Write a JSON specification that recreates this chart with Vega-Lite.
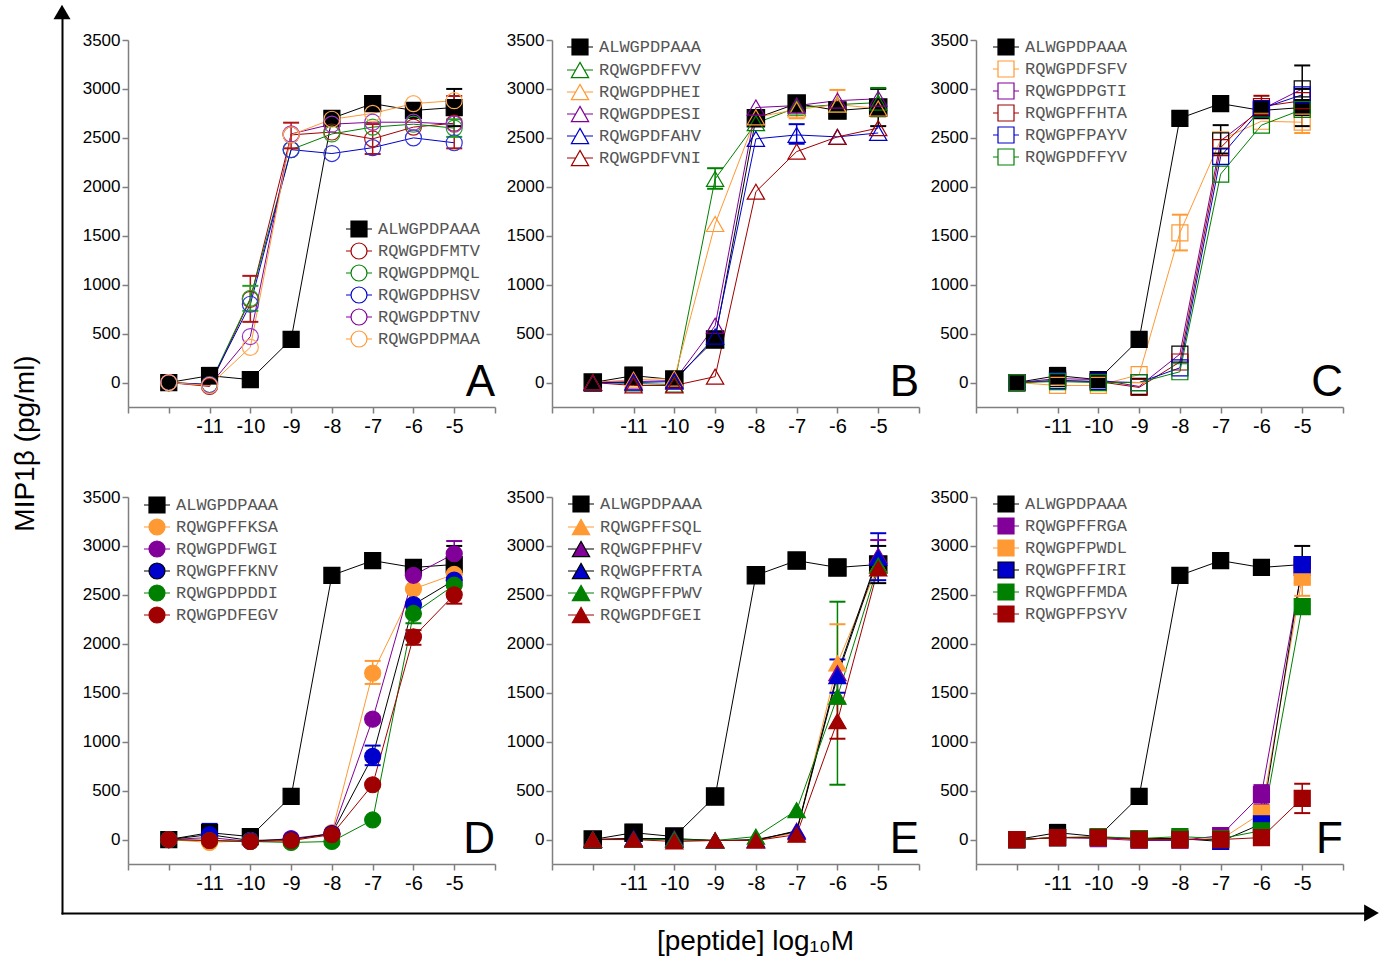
{
"$schema": "https://vega.github.io/schema/vega-lite/v6.json",
"padding": {"left": 11, "top": 4, "right": 5, "bottom": 5},
"background": "white",
"datasets": {"d": [
{"p":"ctl","s":"ALWGPDPAAA","x":-12,"y":0},{"p":"ctl","s":"ALWGPDPAAA","x":-11,"y":70,"lo":-10,"hi":150},{"p":"ctl","s":"ALWGPDPAAA","x":-10,"y":30},{"p":"ctl","s":"ALWGPDPAAA","x":-9,"y":440},{"p":"ctl","s":"ALWGPDPAAA","x":-8,"y":2700},{"p":"ctl","s":"ALWGPDPAAA","x":-7,"y":2850},{"p":"ctl","s":"ALWGPDPAAA","x":-6,"y":2780},{"p":"ctl","s":"ALWGPDPAAA","x":-5,"y":2810,"lo":2620,"hi":3000},
{"p":"A","s":"RQWGPDFMTV","x":-12,"y":0},{"p":"A","s":"RQWGPDFMTV","x":-11,"y":-40},{"p":"A","s":"RQWGPDFMTV","x":-10,"y":850,"lo":620,"hi":1090},{"p":"A","s":"RQWGPDFMTV","x":-9,"y":2530,"lo":2393,"hi":2655},{"p":"A","s":"RQWGPDFMTV","x":-8,"y":2560},{"p":"A","s":"RQWGPDFMTV","x":-7,"y":2490,"lo":2335,"hi":2641},{"p":"A","s":"RQWGPDFMTV","x":-6,"y":2610},{"p":"A","s":"RQWGPDFMTV","x":-5,"y":2650,"lo":2393,"hi":2928},
{"p":"A","s":"RQWGPDPMQL","x":-12,"y":0},{"p":"A","s":"RQWGPDPMQL","x":-11,"y":-20},{"p":"A","s":"RQWGPDPMQL","x":-10,"y":860,"lo":733,"hi":988},{"p":"A","s":"RQWGPDPMQL","x":-9,"y":2380},{"p":"A","s":"RQWGPDPMQL","x":-8,"y":2540},{"p":"A","s":"RQWGPDPMQL","x":-7,"y":2610},{"p":"A","s":"RQWGPDPMQL","x":-6,"y":2640},{"p":"A","s":"RQWGPDPMQL","x":-5,"y":2600,"lo":2510,"hi":2690},
{"p":"A","s":"RQWGPDPHSV","x":-12,"y":0},{"p":"A","s":"RQWGPDPHSV","x":-11,"y":-20},{"p":"A","s":"RQWGPDPHSV","x":-10,"y":800},{"p":"A","s":"RQWGPDPHSV","x":-9,"y":2380},{"p":"A","s":"RQWGPDPHSV","x":-8,"y":2340},{"p":"A","s":"RQWGPDPHSV","x":-7,"y":2400},{"p":"A","s":"RQWGPDPHSV","x":-6,"y":2500},{"p":"A","s":"RQWGPDPHSV","x":-5,"y":2450},
{"p":"A","s":"RQWGPDPTNV","x":-12,"y":0},{"p":"A","s":"RQWGPDPTNV","x":-11,"y":-30},{"p":"A","s":"RQWGPDPTNV","x":-10,"y":470},{"p":"A","s":"RQWGPDPTNV","x":-9,"y":2540},{"p":"A","s":"RQWGPDPTNV","x":-8,"y":2640},{"p":"A","s":"RQWGPDPTNV","x":-7,"y":2660},{"p":"A","s":"RQWGPDPTNV","x":-6,"y":2660},{"p":"A","s":"RQWGPDPTNV","x":-5,"y":2640},
{"p":"A","s":"RQWGPDPMAA","x":-12,"y":0},{"p":"A","s":"RQWGPDPMAA","x":-11,"y":-30},{"p":"A","s":"RQWGPDPMAA","x":-10,"y":360},{"p":"A","s":"RQWGPDPMAA","x":-9,"y":2530},{"p":"A","s":"RQWGPDPMAA","x":-8,"y":2690},{"p":"A","s":"RQWGPDPMAA","x":-7,"y":2750},{"p":"A","s":"RQWGPDPMAA","x":-6,"y":2850},{"p":"A","s":"RQWGPDPMAA","x":-5,"y":2880},
{"p":"B","s":"RQWGPDFFVV","x":-12,"y":0},{"p":"B","s":"RQWGPDFFVV","x":-11,"y":-10},{"p":"B","s":"RQWGPDFFVV","x":-10,"y":-20},{"p":"B","s":"RQWGPDFFVV","x":-9,"y":2080,"lo":1980,"hi":2190},{"p":"B","s":"RQWGPDFFVV","x":-8,"y":2650},{"p":"B","s":"RQWGPDFFVV","x":-7,"y":2810},{"p":"B","s":"RQWGPDFFVV","x":-6,"y":2840},{"p":"B","s":"RQWGPDFFVV","x":-5,"y":2860,"lo":2720,"hi":3010},
{"p":"B","s":"RQWGPDPHEI","x":-12,"y":0},{"p":"B","s":"RQWGPDPHEI","x":-11,"y":30},{"p":"B","s":"RQWGPDPHEI","x":-10,"y":40},{"p":"B","s":"RQWGPDPHEI","x":-9,"y":1620},{"p":"B","s":"RQWGPDPHEI","x":-8,"y":2710},{"p":"B","s":"RQWGPDPHEI","x":-7,"y":2790,"lo":2700,"hi":2880},{"p":"B","s":"RQWGPDPHEI","x":-6,"y":2840,"lo":2700,"hi":2990},{"p":"B","s":"RQWGPDPHEI","x":-5,"y":2800},
{"p":"B","s":"RQWGPDPESI","x":-12,"y":0},{"p":"B","s":"RQWGPDPESI","x":-11,"y":10},{"p":"B","s":"RQWGPDPESI","x":-10,"y":20},{"p":"B","s":"RQWGPDPESI","x":-9,"y":580},{"p":"B","s":"RQWGPDPESI","x":-8,"y":2810},{"p":"B","s":"RQWGPDPESI","x":-7,"y":2830},{"p":"B","s":"RQWGPDPESI","x":-6,"y":2880},{"p":"B","s":"RQWGPDPESI","x":-5,"y":2900},
{"p":"B","s":"RQWGPDFAHV","x":-12,"y":0},{"p":"B","s":"RQWGPDFAHV","x":-11,"y":0},{"p":"B","s":"RQWGPDFAHV","x":-10,"y":10},{"p":"B","s":"RQWGPDFAHV","x":-9,"y":470},{"p":"B","s":"RQWGPDFAHV","x":-8,"y":2490},{"p":"B","s":"RQWGPDFAHV","x":-7,"y":2530,"lo":2440,"hi":2640},{"p":"B","s":"RQWGPDFAHV","x":-6,"y":2510},{"p":"B","s":"RQWGPDFAHV","x":-5,"y":2550},
{"p":"B","s":"RQWGPDFVNI","x":-12,"y":0},{"p":"B","s":"RQWGPDFVNI","x":-11,"y":-30},{"p":"B","s":"RQWGPDFVNI","x":-10,"y":-30},{"p":"B","s":"RQWGPDFVNI","x":-9,"y":60},{"p":"B","s":"RQWGPDFVNI","x":-8,"y":1950},{"p":"B","s":"RQWGPDFVNI","x":-7,"y":2360},{"p":"B","s":"RQWGPDFVNI","x":-6,"y":2510},{"p":"B","s":"RQWGPDFVNI","x":-5,"y":2600},
{"p":"C","s":"RQWGPDFSFV","x":-12,"y":0},{"p":"C","s":"RQWGPDFSFV","x":-11,"y":-30},{"p":"C","s":"RQWGPDFSFV","x":-10,"y":-30},{"p":"C","s":"RQWGPDFSFV","x":-9,"y":80},{"p":"C","s":"RQWGPDFSFV","x":-8,"y":1530,"lo":1350,"hi":1715},{"p":"C","s":"RQWGPDFSFV","x":-7,"y":2480},{"p":"C","s":"RQWGPDFSFV","x":-6,"y":2670},{"p":"C","s":"RQWGPDFSFV","x":-5,"y":2660,"lo":2550,"hi":2770},
{"p":"C","s":"RQWGPDPGTI","x":-12,"y":0},{"p":"C","s":"RQWGPDPGTI","x":-11,"y":40},{"p":"C","s":"RQWGPDPGTI","x":-10,"y":30},{"p":"C","s":"RQWGPDPGTI","x":-9,"y":-40},{"p":"C","s":"RQWGPDPGTI","x":-8,"y":290},{"p":"C","s":"RQWGPDPGTI","x":-7,"y":2470,"lo":2340,"hi":2630},{"p":"C","s":"RQWGPDPGTI","x":-6,"y":2790},{"p":"C","s":"RQWGPDPGTI","x":-5,"y":3000,"lo":2790,"hi":3240},
{"p":"C","s":"RQWGPFFHTA","x":-12,"y":0},{"p":"C","s":"RQWGPFFHTA","x":-11,"y":20},{"p":"C","s":"RQWGPFFHTA","x":-10,"y":10},{"p":"C","s":"RQWGPFFHTA","x":-9,"y":-50},{"p":"C","s":"RQWGPFFHTA","x":-8,"y":210},{"p":"C","s":"RQWGPFFHTA","x":-7,"y":2400},{"p":"C","s":"RQWGPFFHTA","x":-6,"y":2820,"lo":2700,"hi":2930},{"p":"C","s":"RQWGPFFHTA","x":-5,"y":2880},
{"p":"C","s":"RQWGPFPAYV","x":-12,"y":0},{"p":"C","s":"RQWGPFPAYV","x":-11,"y":20},{"p":"C","s":"RQWGPFPAYV","x":-10,"y":10},{"p":"C","s":"RQWGPFPAYV","x":-9,"y":0},{"p":"C","s":"RQWGPFPAYV","x":-8,"y":150},{"p":"C","s":"RQWGPFPAYV","x":-7,"y":2310},{"p":"C","s":"RQWGPFPAYV","x":-6,"y":2800},{"p":"C","s":"RQWGPFPAYV","x":-5,"y":2940},
{"p":"C","s":"RQWGPDFFYV","x":-12,"y":0},{"p":"C","s":"RQWGPDFFYV","x":-11,"y":10},{"p":"C","s":"RQWGPDFFYV","x":-10,"y":0},{"p":"C","s":"RQWGPDFFYV","x":-9,"y":0},{"p":"C","s":"RQWGPDFFYV","x":-8,"y":110},{"p":"C","s":"RQWGPDFFYV","x":-7,"y":2130},{"p":"C","s":"RQWGPDFFYV","x":-6,"y":2630},{"p":"C","s":"RQWGPDFFYV","x":-5,"y":2790},
{"p":"D","s":"RQWGPFFKSA","x":-12,"y":0},{"p":"D","s":"RQWGPFFKSA","x":-11,"y":-30},{"p":"D","s":"RQWGPFFKSA","x":-10,"y":-10},{"p":"D","s":"RQWGPFFKSA","x":-9,"y":-20},{"p":"D","s":"RQWGPFFKSA","x":-8,"y":70},{"p":"D","s":"RQWGPFFKSA","x":-7,"y":1700,"lo":1590,"hi":1825},{"p":"D","s":"RQWGPFFKSA","x":-6,"y":2560},{"p":"D","s":"RQWGPFFKSA","x":-5,"y":2710},
{"p":"D","s":"RQWGPDFWGI","x":-12,"y":0},{"p":"D","s":"RQWGPDFWGI","x":-11,"y":20},{"p":"D","s":"RQWGPDFWGI","x":-10,"y":-20},{"p":"D","s":"RQWGPDFWGI","x":-9,"y":10},{"p":"D","s":"RQWGPDFWGI","x":-8,"y":60},{"p":"D","s":"RQWGPDFWGI","x":-7,"y":1230},{"p":"D","s":"RQWGPDFWGI","x":-6,"y":2700},{"p":"D","s":"RQWGPDFWGI","x":-5,"y":2920,"lo":2780,"hi":3050},
{"p":"D","s":"RQWGPFFKNV","x":-12,"y":0},{"p":"D","s":"RQWGPFFKNV","x":-11,"y":50,"lo":-40,"hi":160},{"p":"D","s":"RQWGPFFKNV","x":-10,"y":-10},{"p":"D","s":"RQWGPFFKNV","x":-9,"y":0},{"p":"D","s":"RQWGPFFKNV","x":-8,"y":60},{"p":"D","s":"RQWGPFFKNV","x":-7,"y":850,"lo":760,"hi":960},{"p":"D","s":"RQWGPFFKNV","x":-6,"y":2400},{"p":"D","s":"RQWGPFFKNV","x":-5,"y":2650},
{"p":"D","s":"RQWGPDPDDI","x":-12,"y":0},{"p":"D","s":"RQWGPDPDDI","x":-11,"y":-10},{"p":"D","s":"RQWGPDPDDI","x":-10,"y":-20},{"p":"D","s":"RQWGPDPDDI","x":-9,"y":-30},{"p":"D","s":"RQWGPDPDDI","x":-8,"y":-20},{"p":"D","s":"RQWGPDPDDI","x":-7,"y":200},{"p":"D","s":"RQWGPDPDDI","x":-6,"y":2310,"lo":2210,"hi":2410},{"p":"D","s":"RQWGPDPDDI","x":-5,"y":2600},
{"p":"D","s":"RQWGPDFEGV","x":-12,"y":0},{"p":"D","s":"RQWGPDFEGV","x":-11,"y":-10},{"p":"D","s":"RQWGPDFEGV","x":-10,"y":-20},{"p":"D","s":"RQWGPDFEGV","x":-9,"y":-10},{"p":"D","s":"RQWGPDFEGV","x":-8,"y":50},{"p":"D","s":"RQWGPDFEGV","x":-7,"y":560},{"p":"D","s":"RQWGPDFEGV","x":-6,"y":2070,"lo":1990,"hi":2140},{"p":"D","s":"RQWGPDFEGV","x":-5,"y":2500,"lo":2410,"hi":2590},
{"p":"E","s":"RQWGPFFSQL","x":-12,"y":0},{"p":"E","s":"RQWGPFFSQL","x":-11,"y":0},{"p":"E","s":"RQWGPFFSQL","x":-10,"y":0},{"p":"E","s":"RQWGPFFSQL","x":-9,"y":-10},{"p":"E","s":"RQWGPFFSQL","x":-8,"y":-10},{"p":"E","s":"RQWGPFFSQL","x":-7,"y":70},{"p":"E","s":"RQWGPFFSQL","x":-6,"y":1800,"lo":1410,"hi":2200},{"p":"E","s":"RQWGPFFSQL","x":-5,"y":2800},
{"p":"E","s":"RQWGPFPHFV","x":-12,"y":0},{"p":"E","s":"RQWGPFPHFV","x":-11,"y":10},{"p":"E","s":"RQWGPFPHFV","x":-10,"y":10},{"p":"E","s":"RQWGPFPHFV","x":-9,"y":-10},{"p":"E","s":"RQWGPFPHFV","x":-8,"y":-10},{"p":"E","s":"RQWGPFPHFV","x":-7,"y":90},{"p":"E","s":"RQWGPFPHFV","x":-6,"y":1700},{"p":"E","s":"RQWGPFPHFV","x":-5,"y":2900,"lo":2750,"hi":3060},
{"p":"E","s":"RQWGPFFRTA","x":-12,"y":0},{"p":"E","s":"RQWGPFFRTA","x":-11,"y":10},{"p":"E","s":"RQWGPFFRTA","x":-10,"y":0},{"p":"E","s":"RQWGPFFRTA","x":-9,"y":-10},{"p":"E","s":"RQWGPFFRTA","x":-8,"y":0},{"p":"E","s":"RQWGPFFRTA","x":-7,"y":80},{"p":"E","s":"RQWGPFFRTA","x":-6,"y":1670,"lo":1500,"hi":1840},{"p":"E","s":"RQWGPFFRTA","x":-5,"y":2880,"lo":2650,"hi":3130},
{"p":"E","s":"RQWGPFFPWV","x":-12,"y":0},{"p":"E","s":"RQWGPFFPWV","x":-11,"y":0},{"p":"E","s":"RQWGPFFPWV","x":-10,"y":0},{"p":"E","s":"RQWGPFFPWV","x":-9,"y":-10},{"p":"E","s":"RQWGPFFPWV","x":-8,"y":30},{"p":"E","s":"RQWGPFFPWV","x":-7,"y":300},{"p":"E","s":"RQWGPFFPWV","x":-6,"y":1460,"lo":560,"hi":2430},{"p":"E","s":"RQWGPFFPWV","x":-5,"y":2800},
{"p":"E","s":"RQWGPDFGEI","x":-12,"y":0},{"p":"E","s":"RQWGPDFGEI","x":-11,"y":0},{"p":"E","s":"RQWGPDFGEI","x":-10,"y":-20},{"p":"E","s":"RQWGPDFGEI","x":-9,"y":-10},{"p":"E","s":"RQWGPDFGEI","x":-8,"y":-10},{"p":"E","s":"RQWGPDFGEI","x":-7,"y":50},{"p":"E","s":"RQWGPDFGEI","x":-6,"y":1210,"lo":1030,"hi":1390},{"p":"E","s":"RQWGPDFGEI","x":-5,"y":2770},
{"p":"F","s":"RQWGPFFRGA","x":-12,"y":0},{"p":"F","s":"RQWGPFFRGA","x":-11,"y":20},{"p":"F","s":"RQWGPFFRGA","x":-10,"y":10},{"p":"F","s":"RQWGPFFRGA","x":-9,"y":-10},{"p":"F","s":"RQWGPFFRGA","x":-8,"y":-10},{"p":"F","s":"RQWGPFFRGA","x":-7,"y":40},{"p":"F","s":"RQWGPFFRGA","x":-6,"y":460,"lo":360,"hi":556},{"p":"F","s":"RQWGPFFRGA","x":-5,"y":2780},
{"p":"F","s":"RQWGPFPWDL","x":-12,"y":0},{"p":"F","s":"RQWGPFPWDL","x":-11,"y":20},{"p":"F","s":"RQWGPFPWDL","x":-10,"y":20},{"p":"F","s":"RQWGPFPWDL","x":-9,"y":0},{"p":"F","s":"RQWGPFPWDL","x":-8,"y":0},{"p":"F","s":"RQWGPFPWDL","x":-7,"y":0},{"p":"F","s":"RQWGPFPWDL","x":-6,"y":270},{"p":"F","s":"RQWGPFPWDL","x":-5,"y":2680,"lo":2490,"hi":2870},
{"p":"F","s":"RQWGPFFIRI","x":-12,"y":0},{"p":"F","s":"RQWGPFFIRI","x":-11,"y":20},{"p":"F","s":"RQWGPFFIRI","x":-10,"y":20},{"p":"F","s":"RQWGPFFIRI","x":-9,"y":10},{"p":"F","s":"RQWGPFFIRI","x":-8,"y":10},{"p":"F","s":"RQWGPFFIRI","x":-7,"y":-20},{"p":"F","s":"RQWGPFFIRI","x":-6,"y":160},{"p":"F","s":"RQWGPFFIRI","x":-5,"y":2810},
{"p":"F","s":"RQWGPFFMDA","x":-12,"y":0},{"p":"F","s":"RQWGPFFMDA","x":-11,"y":20},{"p":"F","s":"RQWGPFFMDA","x":-10,"y":30},{"p":"F","s":"RQWGPFFMDA","x":-9,"y":10},{"p":"F","s":"RQWGPFFMDA","x":-8,"y":30},{"p":"F","s":"RQWGPFFMDA","x":-7,"y":10},{"p":"F","s":"RQWGPFFMDA","x":-6,"y":90},{"p":"F","s":"RQWGPFFMDA","x":-5,"y":2380},
{"p":"F","s":"RQWGPFPSYV","x":-12,"y":0},{"p":"F","s":"RQWGPFPSYV","x":-11,"y":20},{"p":"F","s":"RQWGPFPSYV","x":-10,"y":20},{"p":"F","s":"RQWGPFPSYV","x":-9,"y":0},{"p":"F","s":"RQWGPFPSYV","x":-8,"y":0},{"p":"F","s":"RQWGPFPSYV","x":-7,"y":0},{"p":"F","s":"RQWGPFPSYV","x":-6,"y":20},{"p":"F","s":"RQWGPFPSYV","x":-5,"y":420,"lo":270,"hi":570}
]},
"concat": [
{"concat": [
{"width": 367, "height": 367, "title": "A", "data": {"name": "d"},
 "transform": [{"filter": "datum.p == 'A' || datum.p == 'ctl'"}],
 "encoding": {
  "x": {"field": "x", "type": "quantitative", "scale": {"domain": [-13, -4], "nice": false, "zero": false}, "axis": {"values": [-13,-12,-11,-10,-9,-8,-7,-6,-5,-4], "labelExpr": "datum.value >= -11 && datum.value <= -5 ? '' + datum.value : ''", "title": null}},
  "y": {"field": "y", "type": "quantitative", "scale": {"domain": [-250, 3500], "nice": false, "zero": false}, "axis": {"values": [0,500,1000,1500,2000,2500,3000,3500], "format": "d", "title": null}}
 },
 "layer": [
  {"mark": {"type": "line", "strokeWidth": 1}, "encoding": {"color": {"field": "s", "type": "nominal", "sort": ["ALWGPDPAAA","RQWGPDFMTV","RQWGPDPMQL","RQWGPDPHSV","RQWGPDPTNV","RQWGPDPMAA"], "scale": {"range": ["#000000","#a00000","#008000","#0000cc","#800099","#ff9933"]},
      "legend": {"title": null, "legendX": 222, "legendY": 180, "encode": {"symbols": {"update": {
        "shape": [{"test": "datum.value === 'ALWGPDPAAA'", "value": "M-1.625,0H-1M1,0H1.625M-1,-1H1V1H-1Z"}, {"value": "M-1.625,0H-1M1,0H1.625M-1,0A1,1,0,1,1,1,0A1,1,0,1,1,-1,0Z"}],
        "fill": [{"test": "datum.value === 'ALWGPDPAAA'", "value": "#000000"}, {"value": "transparent"}],
        "strokeWidth": {"value": 1.2}, "opacity": {"value": 1}}}}}}}},
  {"transform": [{"filter": "datum.lo != null"}], "mark": {"type": "rule", "strokeWidth": 1.5}, "encoding": {"y": {"field": "lo", "type": "quantitative", "title": null}, "y2": {"field": "hi"}, "stroke": {"field": "s", "type": "nominal", "scale": {"domain": ["ALWGPDPAAA","RQWGPDFMTV","RQWGPDPMQL","RQWGPDPHSV","RQWGPDPTNV","RQWGPDPMAA"], "range": ["#000000","#b01515","#22a022","#3333dd","#9933cc","#ffaa55"]}, "legend": null}}},
  {"transform": [{"filter": "datum.lo != null"}], "mark": {"type": "point", "shape": "M-1,0H1", "size": 256, "strokeWidth": 2, "opacity": 1, "filled": false}, "encoding": {"y": {"field": "lo", "type": "quantitative", "title": null}, "stroke": {"field": "s", "type": "nominal", "legend": null}}},
  {"transform": [{"filter": "datum.lo != null"}], "mark": {"type": "point", "shape": "M-1,0H1", "size": 256, "strokeWidth": 2, "opacity": 1, "filled": false}, "encoding": {"y": {"field": "hi", "type": "quantitative", "title": null}, "stroke": {"field": "s", "type": "nominal", "legend": null}}},
  {"mark": {"type": "point", "size": 256, "strokeWidth": 1.2, "opacity": 1}, "encoding": {
    "fill": {"field": "s", "type": "nominal", "scale": {"domain": ["ALWGPDPAAA","RQWGPDFMTV","RQWGPDPMQL","RQWGPDPHSV","RQWGPDPTNV","RQWGPDPMAA"], "range": ["#000000","transparent","transparent","transparent","transparent","transparent"]}, "legend": null},
    "stroke": {"field": "s", "type": "nominal", "legend": null},
    "shape": {"field": "s", "type": "nominal", "scale": {"domain": ["ALWGPDPAAA","RQWGPDFMTV","RQWGPDPMQL","RQWGPDPHSV","RQWGPDPTNV","RQWGPDPMAA"], "range": ["square","circle","circle","circle","circle","circle"]}, "legend": null}
  }}
 ]},
{"width": 367, "height": 367, "title": "B", "data": {"name": "d"},
 "transform": [{"filter": "datum.p == 'B' || datum.p == 'ctl'"}],
 "encoding": {
  "x": {"field": "x", "type": "quantitative", "scale": {"domain": [-13, -4], "nice": false, "zero": false}, "axis": {"values": [-13,-12,-11,-10,-9,-8,-7,-6,-5,-4], "labelExpr": "datum.value >= -11 && datum.value <= -5 ? '' + datum.value : ''", "title": null}},
  "y": {"field": "y", "type": "quantitative", "scale": {"domain": [-250, 3500], "nice": false, "zero": false}, "axis": {"values": [0,500,1000,1500,2000,2500,3000,3500], "format": "d", "title": null}}
 },
 "layer": [
  {"mark": {"type": "line", "strokeWidth": 1}, "encoding": {"color": {"field": "s", "type": "nominal", "sort": ["ALWGPDPAAA","RQWGPDFFVV","RQWGPDPHEI","RQWGPDPESI","RQWGPDFAHV","RQWGPDFVNI"], "scale": {"range": ["#000000","#008000","#ff9933","#800099","#0000cc","#a00000"]},
      "legend": {"title": null, "legendX": 19, "legendY": -2, "rowPadding": 2, "encode": {"symbols": {"update": {
        "shape": [{"test": "datum.value === 'ALWGPDPAAA'", "value": "M-1.625,0H-1M1,0H1.625M-1,-1H1V1H-1Z"}, {"value": "M-1.625,0H-0.54M0.54,0H1.625M0,-0.95L1.08,0.95H-1.08Z"}],
        "fill": [{"test": "datum.value === 'ALWGPDPAAA'", "value": "#000000"}, {"value": "transparent"}],
        "strokeWidth": {"value": 1.2}, "opacity": {"value": 1}}}}}}}},
  {"transform": [{"filter": "datum.lo != null"}], "mark": {"type": "rule", "strokeWidth": 1.5}, "encoding": {"y": {"field": "lo", "type": "quantitative", "title": null}, "y2": {"field": "hi"}, "stroke": {"field": "s", "type": "nominal", "scale": {"domain": ["ALWGPDPAAA","RQWGPDFFVV","RQWGPDPHEI","RQWGPDPESI","RQWGPDFAHV","RQWGPDFVNI"], "range": ["#000000","#008000","#ff9933","#800099","#0000cc","#a00000"]}, "legend": null}}},
  {"transform": [{"filter": "datum.lo != null"}], "mark": {"type": "point", "shape": "M-1,0H1", "size": 256, "strokeWidth": 2, "opacity": 1, "filled": false}, "encoding": {"y": {"field": "lo", "type": "quantitative", "title": null}, "stroke": {"field": "s", "type": "nominal", "legend": null}}},
  {"transform": [{"filter": "datum.lo != null"}], "mark": {"type": "point", "shape": "M-1,0H1", "size": 256, "strokeWidth": 2, "opacity": 1, "filled": false}, "encoding": {"y": {"field": "hi", "type": "quantitative", "title": null}, "stroke": {"field": "s", "type": "nominal", "legend": null}}},
  {"mark": {"type": "point", "size": 300, "strokeWidth": 1.2, "opacity": 1}, "encoding": {
    "fill": {"field": "s", "type": "nominal", "scale": {"domain": ["ALWGPDPAAA","RQWGPDFFVV","RQWGPDPHEI","RQWGPDPESI","RQWGPDFAHV","RQWGPDFVNI"], "range": ["#000000","transparent","transparent","transparent","transparent","transparent"]}, "legend": null},
    "stroke": {"field": "s", "type": "nominal", "legend": null},
    "shape": {"field": "s", "type": "nominal", "scale": {"domain": ["ALWGPDPAAA","RQWGPDFFVV","RQWGPDPHEI","RQWGPDPESI","RQWGPDFAHV","RQWGPDFVNI"], "range": ["square","triangle-up","triangle-up","triangle-up","triangle-up","triangle-up"]}, "legend": null}
  }}
 ]},
{"width": 367, "height": 367, "title": "C", "data": {"name": "d"},
 "transform": [{"filter": "datum.p == 'C' || datum.p == 'ctl'"}],
 "encoding": {
  "x": {"field": "x", "type": "quantitative", "scale": {"domain": [-13, -4], "nice": false, "zero": false}, "axis": {"values": [-13,-12,-11,-10,-9,-8,-7,-6,-5,-4], "labelExpr": "datum.value >= -11 && datum.value <= -5 ? '' + datum.value : ''", "title": null}},
  "y": {"field": "y", "type": "quantitative", "scale": {"domain": [-250, 3500], "nice": false, "zero": false}, "axis": {"values": [0,500,1000,1500,2000,2500,3000,3500], "format": "d", "title": null}}
 },
 "layer": [
  {"mark": {"type": "line", "strokeWidth": 1}, "encoding": {"color": {"field": "s", "type": "nominal", "sort": ["ALWGPDPAAA","RQWGPDFSFV","RQWGPDPGTI","RQWGPFFHTA","RQWGPFPAYV","RQWGPDFFYV"], "scale": {"range": ["#000000","#ff9933","#800099","#a00000","#0000cc","#008000"]},
      "legend": {"title": null, "legendX": 21, "legendY": -2, "encode": {"symbols": {"update": {
        "shape": {"value": "M-1.625,0H-1M1,0H1.625M-1,-1H1V1H-1Z"},
        "fill": [{"test": "datum.value === 'ALWGPDPAAA'", "value": "#000000"}, {"value": "transparent"}],
        "strokeWidth": {"value": 1.2}, "opacity": {"value": 1}}}}}}}},
  {"transform": [{"filter": "datum.lo != null"}], "mark": {"type": "rule", "strokeWidth": 1.5}, "encoding": {"y": {"field": "lo", "type": "quantitative", "title": null}, "y2": {"field": "hi"}, "stroke": {"field": "s", "type": "nominal", "scale": {"domain": ["ALWGPDPAAA","RQWGPDFSFV","RQWGPDPGTI","RQWGPFFHTA","RQWGPFPAYV","RQWGPDFFYV"], "range": ["#000000","#ff9933","#000000","#a00000","#0000cc","#008000"]}, "legend": null}}},
  {"transform": [{"filter": "datum.lo != null"}], "mark": {"type": "point", "shape": "M-1,0H1", "size": 256, "strokeWidth": 2, "opacity": 1, "filled": false}, "encoding": {"y": {"field": "lo", "type": "quantitative", "title": null}, "stroke": {"field": "s", "type": "nominal", "legend": null}}},
  {"transform": [{"filter": "datum.lo != null"}], "mark": {"type": "point", "shape": "M-1,0H1", "size": 256, "strokeWidth": 2, "opacity": 1, "filled": false}, "encoding": {"y": {"field": "hi", "type": "quantitative", "title": null}, "stroke": {"field": "s", "type": "nominal", "legend": null}}},
  {"mark": {"type": "point", "size": 256, "strokeWidth": 1.2, "opacity": 1}, "encoding": {
    "fill": {"field": "s", "type": "nominal", "scale": {"domain": ["ALWGPDPAAA","RQWGPDFSFV","RQWGPDPGTI","RQWGPFFHTA","RQWGPFPAYV","RQWGPDFFYV"], "range": ["#000000","transparent","transparent","transparent","transparent","transparent"]}, "legend": null},
    "stroke": {"field": "s", "type": "nominal", "legend": null},
    "shape": {"field": "s", "type": "nominal", "scale": {"domain": ["ALWGPDPAAA","RQWGPDFSFV","RQWGPDPGTI","RQWGPFFHTA","RQWGPFPAYV","RQWGPDFFYV"], "range": ["square","square","square","square","square","square"]}, "legend": null}
  }}
 ]},
{"width": 367, "height": 367, "title": "D", "data": {"name": "d"},
 "transform": [{"filter": "datum.p == 'D' || datum.p == 'ctl'"}],
 "encoding": {
  "x": {"field": "x", "type": "quantitative", "scale": {"domain": [-13, -4], "nice": false, "zero": false}, "axis": {"values": [-13,-12,-11,-10,-9,-8,-7,-6,-5,-4], "labelExpr": "datum.value >= -11 && datum.value <= -5 ? '' + datum.value : ''", "title": null}},
  "y": {"field": "y", "type": "quantitative", "scale": {"domain": [-250, 3500], "nice": false, "zero": false}, "axis": {"values": [0,500,1000,1500,2000,2500,3000,3500], "format": "d", "title": null}}
 },
 "layer": [
  {"mark": {"type": "line", "strokeWidth": 1}, "encoding": {"color": {"field": "s", "type": "nominal", "sort": ["ALWGPDPAAA","RQWGPFFKSA","RQWGPDFWGI","RQWGPFFKNV","RQWGPDPDDI","RQWGPDFEGV"], "scale": {"range": ["#000000","#ff9933","#800099","#000000","#008000","#a00000"]},
      "legend": {"title": null, "legendX": 20, "legendY": -1, "encode": {"symbols": {"update": {
        "shape": [{"test": "datum.value === 'ALWGPDPAAA'", "value": "M-1.625,0H-1M1,0H1.625M-1,-1H1V1H-1Z"}, {"value": "M-1.625,0H-1M1,0H1.625M-1,0A1,1,0,1,1,1,0A1,1,0,1,1,-1,0Z"}],
        "fill": [{"test": "datum.value === 'ALWGPDPAAA'", "value": "#000000"}, {"test": "datum.value === 'RQWGPFFKSA'", "value": "#ff9933"}, {"test": "datum.value === 'RQWGPDFWGI'", "value": "#800099"}, {"test": "datum.value === 'RQWGPFFKNV'", "value": "#0000cc"}, {"test": "datum.value === 'RQWGPDPDDI'", "value": "#008000"}, {"value": "#a00000"}],
        "strokeWidth": {"value": 1.2}, "opacity": {"value": 1}}}}}}}},
  {"transform": [{"filter": "datum.lo != null"}], "mark": {"type": "rule", "strokeWidth": 1.5}, "encoding": {"y": {"field": "lo", "type": "quantitative", "title": null}, "y2": {"field": "hi"}, "stroke": {"field": "s", "type": "nominal", "scale": {"domain": ["ALWGPDPAAA","RQWGPFFKSA","RQWGPDFWGI","RQWGPFFKNV","RQWGPDPDDI","RQWGPDFEGV"], "range": ["#000000","#ff9933","#800099","#0000cc","#008000","#a00000"]}, "legend": null}}},
  {"transform": [{"filter": "datum.lo != null"}], "mark": {"type": "point", "shape": "M-1,0H1", "size": 256, "strokeWidth": 2, "opacity": 1, "filled": false}, "encoding": {"y": {"field": "lo", "type": "quantitative", "title": null}, "stroke": {"field": "s", "type": "nominal", "legend": null}}},
  {"transform": [{"filter": "datum.lo != null"}], "mark": {"type": "point", "shape": "M-1,0H1", "size": 256, "strokeWidth": 2, "opacity": 1, "filled": false}, "encoding": {"y": {"field": "hi", "type": "quantitative", "title": null}, "stroke": {"field": "s", "type": "nominal", "legend": null}}},
  {"mark": {"type": "point", "size": 256, "strokeWidth": 1.2, "opacity": 1}, "encoding": {
    "fill": {"field": "s", "type": "nominal", "scale": {"domain": ["ALWGPDPAAA","RQWGPFFKSA","RQWGPDFWGI","RQWGPFFKNV","RQWGPDPDDI","RQWGPDFEGV"], "range": ["#000000","#ff9933","#800099","#0000cc","#008000","#a00000"]}, "legend": null},
    "stroke": {"field": "s", "type": "nominal", "legend": null},
    "shape": {"field": "s", "type": "nominal", "scale": {"domain": ["ALWGPDPAAA","RQWGPFFKSA","RQWGPDFWGI","RQWGPFFKNV","RQWGPDPDDI","RQWGPDFEGV"], "range": ["square","circle","circle","circle","circle","circle"]}, "legend": null}
  }}
 ]},
{"width": 367, "height": 367, "title": "E", "data": {"name": "d"},
 "transform": [{"filter": "datum.p == 'E' || datum.p == 'ctl'"}],
 "encoding": {
  "x": {"field": "x", "type": "quantitative", "scale": {"domain": [-13, -4], "nice": false, "zero": false}, "axis": {"values": [-13,-12,-11,-10,-9,-8,-7,-6,-5,-4], "labelExpr": "datum.value >= -11 && datum.value <= -5 ? '' + datum.value : ''", "title": null}},
  "y": {"field": "y", "type": "quantitative", "scale": {"domain": [-250, 3500], "nice": false, "zero": false}, "axis": {"values": [0,500,1000,1500,2000,2500,3000,3500], "format": "d", "title": null}}
 },
 "layer": [
  {"mark": {"type": "line", "strokeWidth": 1}, "encoding": {"color": {"field": "s", "type": "nominal", "sort": ["ALWGPDPAAA","RQWGPFFSQL","RQWGPFPHFV","RQWGPFFRTA","RQWGPFFPWV","RQWGPDFGEI"], "scale": {"range": ["#000000","#ff9933","#000000","#000000","#008000","#a00000"]},
      "legend": {"title": null, "legendX": 20, "legendY": -2, "rowPadding": 2, "encode": {"symbols": {"update": {
        "shape": [{"test": "datum.value === 'ALWGPDPAAA'", "value": "M-1.625,0H-1M1,0H1.625M-1,-1H1V1H-1Z"}, {"value": "M-1.625,0H-0.54M0.54,0H1.625M0,-0.95L1.08,0.95H-1.08Z"}],
        "fill": [{"test": "datum.value === 'ALWGPDPAAA'", "value": "#000000"}, {"test": "datum.value === 'RQWGPFFSQL'", "value": "#ff9933"}, {"test": "datum.value === 'RQWGPFPHFV'", "value": "#800099"}, {"test": "datum.value === 'RQWGPFFRTA'", "value": "#0000cc"}, {"test": "datum.value === 'RQWGPFFPWV'", "value": "#008000"}, {"value": "#a00000"}],
        "strokeWidth": {"value": 1.2}, "opacity": {"value": 1}}}}}}}},
  {"transform": [{"filter": "datum.lo != null"}], "mark": {"type": "rule", "strokeWidth": 1.5}, "encoding": {"y": {"field": "lo", "type": "quantitative", "title": null}, "y2": {"field": "hi"}, "stroke": {"field": "s", "type": "nominal", "scale": {"domain": ["ALWGPDPAAA","RQWGPFFSQL","RQWGPFPHFV","RQWGPFFRTA","RQWGPFFPWV","RQWGPDFGEI"], "range": ["#000000","#ff9933","#800099","#0000cc","#008000","#a00000"]}, "legend": null}}},
  {"transform": [{"filter": "datum.lo != null"}], "mark": {"type": "point", "shape": "M-1,0H1", "size": 256, "strokeWidth": 2, "opacity": 1, "filled": false}, "encoding": {"y": {"field": "lo", "type": "quantitative", "title": null}, "stroke": {"field": "s", "type": "nominal", "legend": null}}},
  {"transform": [{"filter": "datum.lo != null"}], "mark": {"type": "point", "shape": "M-1,0H1", "size": 256, "strokeWidth": 2, "opacity": 1, "filled": false}, "encoding": {"y": {"field": "hi", "type": "quantitative", "title": null}, "stroke": {"field": "s", "type": "nominal", "legend": null}}},
  {"mark": {"type": "point", "size": 300, "strokeWidth": 1.2, "opacity": 1}, "encoding": {
    "fill": {"field": "s", "type": "nominal", "scale": {"domain": ["ALWGPDPAAA","RQWGPFFSQL","RQWGPFPHFV","RQWGPFFRTA","RQWGPFFPWV","RQWGPDFGEI"], "range": ["#000000","#ff9933","#800099","#0000cc","#008000","#a00000"]}, "legend": null},
    "stroke": {"field": "s", "type": "nominal", "legend": null},
    "shape": {"field": "s", "type": "nominal", "scale": {"domain": ["ALWGPDPAAA","RQWGPFFSQL","RQWGPFPHFV","RQWGPFFRTA","RQWGPFFPWV","RQWGPDFGEI"], "range": ["square","triangle-up","triangle-up","triangle-up","triangle-up","triangle-up"]}, "legend": null}
  }}
 ]},
{"width": 367, "height": 367, "title": "F", "data": {"name": "d"},
 "transform": [{"filter": "datum.p == 'F' || datum.p == 'ctl'"}],
 "encoding": {
  "x": {"field": "x", "type": "quantitative", "scale": {"domain": [-13, -4], "nice": false, "zero": false}, "axis": {"values": [-13,-12,-11,-10,-9,-8,-7,-6,-5,-4], "labelExpr": "datum.value >= -11 && datum.value <= -5 ? '' + datum.value : ''", "title": null}},
  "y": {"field": "y", "type": "quantitative", "scale": {"domain": [-250, 3500], "nice": false, "zero": false}, "axis": {"values": [0,500,1000,1500,2000,2500,3000,3500], "format": "d", "title": null}}
 },
 "layer": [
  {"mark": {"type": "line", "strokeWidth": 1}, "encoding": {"color": {"field": "s", "type": "nominal", "sort": ["ALWGPDPAAA","RQWGPFFRGA","RQWGPFPWDL","RQWGPFFIRI","RQWGPFFMDA","RQWGPFPSYV"], "scale": {"range": ["#000000","#800099","#ff9933","#000000","#008000","#a00000"]},
      "legend": {"title": null, "legendX": 21, "legendY": -2, "encode": {"symbols": {"update": {
        "shape": {"value": "M-1.625,0H-1M1,0H1.625M-1,-1H1V1H-1Z"},
        "fill": [{"test": "datum.value === 'ALWGPDPAAA'", "value": "#000000"}, {"test": "datum.value === 'RQWGPFFRGA'", "value": "#800099"}, {"test": "datum.value === 'RQWGPFPWDL'", "value": "#ff9933"}, {"test": "datum.value === 'RQWGPFFIRI'", "value": "#0000cc"}, {"test": "datum.value === 'RQWGPFFMDA'", "value": "#008000"}, {"value": "#a00000"}],
        "strokeWidth": {"value": 1.2}, "opacity": {"value": 1}}}}}}}},
  {"transform": [{"filter": "datum.lo != null"}], "mark": {"type": "rule", "strokeWidth": 1.5}, "encoding": {"y": {"field": "lo", "type": "quantitative", "title": null}, "y2": {"field": "hi"}, "stroke": {"field": "s", "type": "nominal", "scale": {"domain": ["ALWGPDPAAA","RQWGPFFRGA","RQWGPFPWDL","RQWGPFFIRI","RQWGPFFMDA","RQWGPFPSYV"], "range": ["#000000","#800099","#ff9933","#0000cc","#008000","#a00000"]}, "legend": null}}},
  {"transform": [{"filter": "datum.lo != null"}], "mark": {"type": "point", "shape": "M-1,0H1", "size": 256, "strokeWidth": 2, "opacity": 1, "filled": false}, "encoding": {"y": {"field": "lo", "type": "quantitative", "title": null}, "stroke": {"field": "s", "type": "nominal", "legend": null}}},
  {"transform": [{"filter": "datum.lo != null"}], "mark": {"type": "point", "shape": "M-1,0H1", "size": 256, "strokeWidth": 2, "opacity": 1, "filled": false}, "encoding": {"y": {"field": "hi", "type": "quantitative", "title": null}, "stroke": {"field": "s", "type": "nominal", "legend": null}}},
  {"mark": {"type": "point", "size": 256, "strokeWidth": 1.2, "opacity": 1}, "encoding": {
    "fill": {"field": "s", "type": "nominal", "scale": {"domain": ["ALWGPDPAAA","RQWGPFFRGA","RQWGPFPWDL","RQWGPFFIRI","RQWGPFFMDA","RQWGPFPSYV"], "range": ["#000000","#800099","#ff9933","#0000cc","#008000","#a00000"]}, "legend": null},
    "stroke": {"field": "s", "type": "nominal", "legend": null},
    "shape": {"field": "s", "type": "nominal", "scale": {"domain": ["ALWGPDPAAA","RQWGPFFRGA","RQWGPFPWDL","RQWGPFFIRI","RQWGPFFMDA","RQWGPFPSYV"], "range": ["square","square","square","square","square","square"]}, "legend": null}
  }}
 ]}
], "columns": 3, "bounds": "flush", "spacing": {"row": 90, "column": 57},
 "resolve": {"scale": {"color": "independent", "fill": "independent", "stroke": "independent", "shape": "independent"}, "legend": {"color": "independent", "fill": "independent", "stroke": "independent", "shape": "independent"}}},
{"width": 1244, "height": 873,
 "data": {"values": [{"a": "y", "fx": 0, "fy": 1}, {"a": "x", "fx": 1, "fy": 0}]},
 "mark": {"type": "point", "filled": true, "opacity": 1, "size": 289, "color": "black"},
 "encoding": {
  "x": {"field": "fx", "type": "quantitative", "scale": {"domain": [0, 1], "range": [-66, 1243.5], "nice": false, "zero": false},
        "axis": {"ticks": false, "labels": false, "grid": false, "domainColor": "black", "domainWidth": 2, "domainCap": "square", "title": "[peptide] log₁₀M", "titleFont": "Liberation Sans", "titleFontSize": 28, "titleFontWeight": "normal", "titleColor": "black", "titleX": 627, "titleY": 36, "titleAlign": "center", "titleBaseline": "alphabetic"}},
  "y": {"field": "fy", "type": "quantitative", "scale": {"domain": [0, 1], "range": [873, -28], "nice": false, "zero": false},
        "axis": {"offset": 66, "ticks": false, "labels": false, "grid": false, "domainColor": "black", "domainWidth": 2, "domainCap": "square", "title": "MIP1β (pg/ml)", "titleFont": "Liberation Sans", "titleFontSize": 28, "titleFontWeight": "normal", "titleColor": "black", "titleAngle": -90, "titleX": -37, "titleY": 403, "titleAlign": "center", "titleBaseline": "middle"}},
  "shape": {"field": "a", "type": "nominal", "scale": {"domain": ["y", "x"], "range": ["triangle-up", "triangle-right"]}, "legend": null}
 }}
],
"columns": 1,
"align": "none",
"bounds": "flush",
"spacing": 0,
"resolve": {"scale": {"color": "independent", "fill": "independent", "stroke": "independent", "shape": "independent"}, "legend": {"color": "independent", "fill": "independent", "stroke": "independent", "shape": "independent"}},
"config": {
 "font": "Liberation Sans",
 "view": {"stroke": null},
 "axis": {"grid": false, "domainColor": "#7f7f7f", "domainWidth": 1.5, "tickColor": "#7f7f7f", "tickWidth": 1.5, "tickSize": 6, "labelColor": "black", "labelFont": "Liberation Sans", "labelFlush": false, "labelOverlap": false},
 "axisX": {"labelFontSize": 20, "labelPadding": 3},
 "axisY": {"labelFontSize": 17, "labelPadding": 2},
 "legend": {"orient": "none", "labelFont": "Liberation Mono", "labelFontSize": 17, "labelColor": "#555555", "symbolSize": 256, "symbolStrokeWidth": 1.2, "rowPadding": 0, "labelOffset": 10, "padding": 0, "labelLimit": 300},
 "title": {"font": "Liberation Sans", "fontSize": 44, "fontWeight": "normal", "color": "black", "orient": "bottom", "anchor": "end", "frame": "group", "offset": -75, "baseline": "alphabetic"}
}
}
